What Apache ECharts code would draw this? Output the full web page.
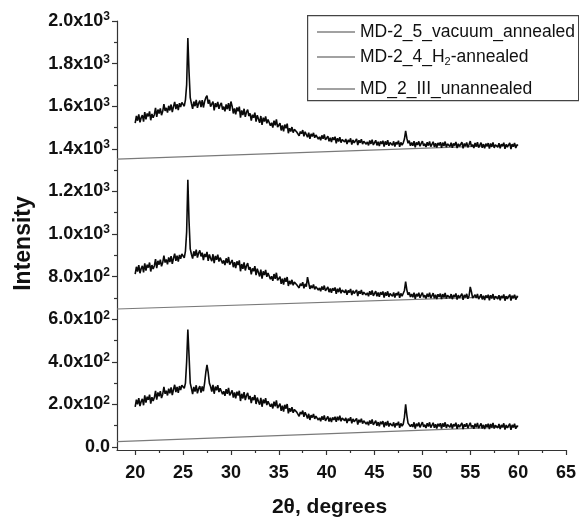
<!DOCTYPE html>
<html>
<head>
<meta charset="utf-8">
<title>XRD patterns</title>
<script src="https://cdn.jsdelivr.net/npm/echarts@6/dist/echarts.min.js"></script>
<style>
  html, body { margin: 0; padding: 0; background: #fff; }
  #chart { width: 579px; height: 518px; }
</style>
</head>
<body>
<div id="chart"></div>
<script>
// Scan grid: 20° to 60° 2θ, 0.125° per step (321 points)
const scanStart = 20;
const scanStep = 0.125;
const scanPoints = 321;

// Offset intensities, one row per degree (8 steps each), last value at 60°
const vacuumAnnealed = [
  1520,1554,1532,1562,1524,1546,1558,1528,
  1572,1538,1566,1552,1576,1534,1564,1546,
  1560,1592,1550,1584,1566,1590,1558,1576,
  1610,1578,1592,1570,1602,1580,1608,1572,
  1598,1620,1586,1610,1582,1614,1596,1618,
  1612,1600,1630,1700,1920,1760,1640,1612,
  1588,1622,1600,1630,1592,1614,1626,1596,
  1628,1594,1622,1640,1650,1612,1630,1598,
  1590,1622,1580,1614,1596,1620,1588,1606,
  1616,1584,1598,1576,1608,1586,1614,1578,
  1622,1600,1566,1590,1562,1594,1576,1598,
  1546,1580,1558,1588,1550,1572,1584,1554,
  1566,1532,1560,1546,1570,1528,1558,1540,
  1522,1554,1512,1546,1528,1552,1520,1538,
  1540,1508,1522,1500,1532,1510,1538,1502,
  1498,1520,1486,1510,1482,1514,1496,1518,
  1473,1497,1481,1502,1476,1491,1500,1479,
  1485,1461,1481,1471,1488,1459,1480,1467,
  1454,1476,1447,1470,1458,1475,1452,1465,
  1468,1446,1456,1440,1463,1447,1467,1442,
  1443,1459,1435,1452,1432,1454,1442,1457,
  1426,1450,1434,1455,1429,1444,1453,1432,
  1446,1422,1442,1432,1449,1420,1441,1428,
  1424,1446,1417,1440,1428,1445,1422,1435,
  1444,1422,1432,1416,1439,1423,1443,1418,
  1424,1440,1416,1433,1413,1435,1423,1438,
  1411,1435,1419,1440,1414,1429,1438,1417,
  1435,1411,1431,1421,1438,1409,1430,1417,
  1428,1446,1484,1450,1426,1438,1414,1430,
  1414,1436,1407,1430,1418,1435,1412,1425,
  1436,1414,1424,1408,1431,1415,1435,1410,
  1417,1433,1409,1426,1406,1428,1416,1431,
  1405,1429,1413,1434,1408,1423,1432,1411,
  1429,1405,1425,1415,1432,1403,1424,1411,
  1409,1431,1402,1425,1413,1430,1407,1420,
  1436,1410,1420,1404,1427,1411,1431,1406,
  1413,1429,1405,1422,1402,1424,1412,1427,
  1401,1425,1409,1430,1404,1419,1428,1407,
  1426,1402,1422,1412,1429,1400,1421,1408,
  1406,1428,1399,1422,1410,1427,1404,1417,
  1418
];
const h2Annealed = [
  812,846,824,854,816,838,850,820,
  862,828,856,842,866,824,854,836,
  850,882,840,874,856,880,848,866,
  898,866,880,858,890,868,896,860,
  886,908,874,898,870,902,884,906,
  900,888,920,1010,1255,1060,930,905,
  885,919,897,927,889,911,923,895,
  912,878,906,892,916,874,904,886,
  873,905,863,897,879,903,871,889,
  894,862,876,854,886,864,892,856,
  856,878,844,868,840,872,854,876,
  825,859,837,867,829,851,863,833,
  845,811,839,825,849,807,837,819,
  801,833,791,825,807,831,799,817,
  820,788,802,780,812,790,818,782,
  778,800,766,790,762,794,776,798,
  756,780,764,785,759,774,783,762,
  771,747,767,757,774,745,766,753,
  798,770,742,758,746,763,740,753,
  759,737,747,731,754,738,758,733,
  735,751,727,744,724,746,734,749,
  719,743,727,748,722,737,746,725,
  739,715,735,725,742,713,734,721,
  716,738,709,732,720,737,714,727,
  736,714,724,708,731,715,735,710,
  716,732,708,725,705,727,715,730,
  702,726,710,731,705,720,729,708,
  726,702,722,712,729,700,721,708,
  712,735,776,738,714,726,704,718,
  703,725,696,719,707,724,701,714,
  725,703,713,697,720,704,724,699,
  706,722,698,715,695,717,705,720,
  694,718,702,723,697,712,721,700,
  718,694,714,704,721,692,713,700,
  698,720,691,714,702,719,696,709,
  752,728,699,693,715,700,719,694,
  701,717,693,710,690,712,700,715,
  689,713,697,718,692,707,716,695,
  713,689,709,699,716,687,708,695,
  694,716,687,710,698,715,692,705,
  704
];
const unannealed = [
  188,222,200,230,192,214,226,196,
  242,208,236,222,246,204,234,216,
  232,264,222,256,238,262,230,248,
  282,250,264,242,274,252,280,244,
  270,292,258,282,254,286,268,290,
  284,276,300,400,552,430,300,276,
  248,282,260,290,252,274,286,256,
  284,262,300,350,386,350,300,284,
  260,292,250,284,266,290,258,276,
  280,248,262,240,272,250,278,242,
  244,266,232,256,228,260,242,264,
  216,250,228,258,220,242,254,224,
  240,206,234,220,244,202,232,214,
  199,231,189,223,205,229,197,215,
  221,189,203,181,213,191,219,183,
  182,204,170,194,166,198,180,202,
  158,182,166,187,161,176,185,164,
  168,144,164,154,171,142,163,150,
  134,156,127,150,138,155,132,145,
  149,127,137,121,144,128,148,123,
  128,144,120,137,117,139,127,142,
  118,142,126,147,121,136,145,124,
  137,113,133,123,140,111,132,119,
  112,134,105,128,116,133,110,123,
  130,108,118,102,125,109,129,104,
  108,124,100,117,97,119,107,122,
  93,117,101,122,96,111,120,99,
  116,92,112,102,119,90,111,98,
  108,140,200,150,112,118,96,106,
  94,116,87,110,98,115,92,105,
  117,95,105,89,112,96,116,91,
  98,114,90,107,87,109,97,112,
  87,111,95,116,90,105,114,93,
  111,87,107,97,114,85,106,93,
  91,113,84,107,95,112,89,102,
  114,92,102,86,109,93,113,88,
  95,111,87,104,84,106,94,109,
  84,108,92,113,87,102,111,90,
  108,84,104,94,111,82,103,90,
  88,110,81,104,92,109,86,99,
  96
];

// Straight offset reference lines [2θ, intensity]
const baseVacuum = [[18.1, 1352], [60, 1418]];
const baseH2 = [[18.1, 648], [60, 708]];
const baseUnannealed = [[18.1, 25], [60, 96]];

const seriesNames = ['MD-2_5_vacuum_annealed', 'MD-2_4_H2-annealed', 'MD_2_III_unannealed'];

// Axis ticks
const intensityTicks = [0, 200, 400, 600, 800, 1000, 1200, 1400, 1600, 1800, 2000];
const intensityMinor = [100, 300, 500, 700, 900, 1100, 1300, 1500, 1700, 1900];
const angleTicks = [20, 25, 30, 35, 40, 45, 50, 55, 60, 65];
const angleMinor = [22.5, 27.5, 32.5, 37.5, 42.5, 47.5, 52.5, 57.5, 62.5];

const angles = [];
for (let i = 0; i < scanPoints; i++) angles.push(+(scanStart + i * scanStep).toFixed(3));
const pair = vals => vals.map((v, i) => [angles[i], v]);

const FONT = "'Liberation Sans', Arial, sans-serif";
const AXIS_COLOR = '#333';

function sciLabel(v) {
  if (v === 0) return '{m|0.0}';
  const e = v >= 1000 ? 3 : 2;
  const m = (v / Math.pow(10, e)).toFixed(1);
  return '{m|' + m + 'x10}{s|' + e + '}';
}

const chart = echarts.init(document.getElementById('chart'), null, { renderer: 'canvas' });

const legendText = {
  fontFamily: FONT, fontSize: 17.5, color: '#111', lineHeight: 20,
  rich: {
    n: { fontFamily: FONT, fontSize: 17.5, color: '#111', lineHeight: 20 },
    sub: { fontFamily: FONT, fontSize: 11, color: '#111', lineHeight: 10, verticalAlign: 'bottom' }
  }
};
function legendAt(name, top) {
  return {
    data: [name], left: 317, top: top, padding: 0, orient: 'vertical',
    icon: 'rect', itemWidth: 38, itemHeight: 1.2, itemGap: 0,
    selectedMode: false, textStyle: legendText,
    formatter: n => n.indexOf('H2') >= 0
      ? '{n|' + n.replace('H2', 'H}{sub|2}{n|') + '}'
      : '{n|' + n + '}'
  };
}

const lineSeries = (name, vals) => ({
  name: name, type: 'line', data: pair(vals), symbol: 'none', showSymbol: false,
  xAxisIndex: 0, yAxisIndex: 0,
  lineStyle: { color: '#0a0a0a', width: 1.6 }, itemStyle: { color: '#444' },
  emphasis: { disabled: true }, z: 3
});
const baseSeries = (data) => ({
  type: 'line', data: data, symbol: 'none', showSymbol: false,
  xAxisIndex: 0, yAxisIndex: 0,
  lineStyle: { color: '#7a7a7a', width: 1.2 }, emphasis: { disabled: true }, z: 2
});

const option = {
  animation: false,
  backgroundColor: '#fff',
  grid: { left: 117, right: 13, top: 21, bottom: 68, containLabel: false, outerBoundsMode: 'none' },
  legend: [legendAt(seriesNames[0], 22), legendAt(seriesNames[1], 47), legendAt(seriesNames[2], 79)],
  graphic: [{
    type: 'rect', left: 307, top: 15, z: 10, silent: true,
    shape: { width: 271, height: 85 },
    style: { fill: 'rgba(0,0,0,0)', stroke: '#444', lineWidth: 1.2 }
  }],
  xAxis: [{
    type: 'value', min: 18.1, max: 65, position: 'bottom',
    name: '2θ, degrees', nameLocation: 'middle', nameGap: 47,
    nameTextStyle: { fontFamily: FONT, fontSize: 21, fontWeight: 'bold', color: '#111', padding: [0, 24, 0, 0] },
    axisLine: { onZero: false, lineStyle: { color: AXIS_COLOR, width: 1.2 } },
    axisTick: { show: true, customValues: angleTicks, length: 5, inside: false, lineStyle: { color: AXIS_COLOR, width: 1.2 } },
    axisLabel: { customValues: angleTicks, margin: 14, fontFamily: FONT, fontSize: 18, fontWeight: 'bold', color: '#111' },
    splitLine: { show: false }
  }, {
    type: 'value', min: 18.1, max: 65, position: 'bottom',
    axisLine: { show: false, onZero: false },
    axisTick: { show: true, customValues: angleMinor, length: 3, lineStyle: { color: AXIS_COLOR, width: 1.2 } },
    axisLabel: { show: false }, splitLine: { show: false }
  }],
  yAxis: [{
    type: 'value', min: -14, max: 2000, position: 'left',
    name: 'Intensity', nameLocation: 'middle', nameGap: 82,
    nameTextStyle: { fontFamily: FONT, fontSize: 23, fontWeight: 'bold', color: '#111', padding: [0, 16, 0, 0] },
    axisLine: { show: true, onZero: false, lineStyle: { color: AXIS_COLOR, width: 1.2 } },
    axisTick: { show: true, customValues: intensityTicks, length: 5, lineStyle: { color: AXIS_COLOR, width: 1.2 } },
    axisLabel: {
      customValues: intensityTicks, margin: 7, formatter: sciLabel,
      rich: {
        m: { fontFamily: FONT, fontSize: 18, fontWeight: 'bold', color: '#111', lineHeight: 20 },
        s: { fontFamily: FONT, fontSize: 12, fontWeight: 'bold', color: '#111', lineHeight: 10, verticalAlign: 'top' }
      }
    },
    splitLine: { show: false }
  }, {
    type: 'value', min: -14, max: 2000, position: 'left',
    axisLine: { show: false, onZero: false },
    axisTick: { show: true, customValues: intensityMinor, length: 3, lineStyle: { color: AXIS_COLOR, width: 1.2 } },
    axisLabel: { show: false }, splitLine: { show: false }
  }],
  series: [
    baseSeries(baseVacuum),
    baseSeries(baseH2),
    baseSeries(baseUnannealed),
    lineSeries(seriesNames[0], vacuumAnnealed),
    lineSeries(seriesNames[1], h2Annealed),
    lineSeries(seriesNames[2], unannealed)
  ]
};

chart.setOption(option);
</script>
</body>
</html>
